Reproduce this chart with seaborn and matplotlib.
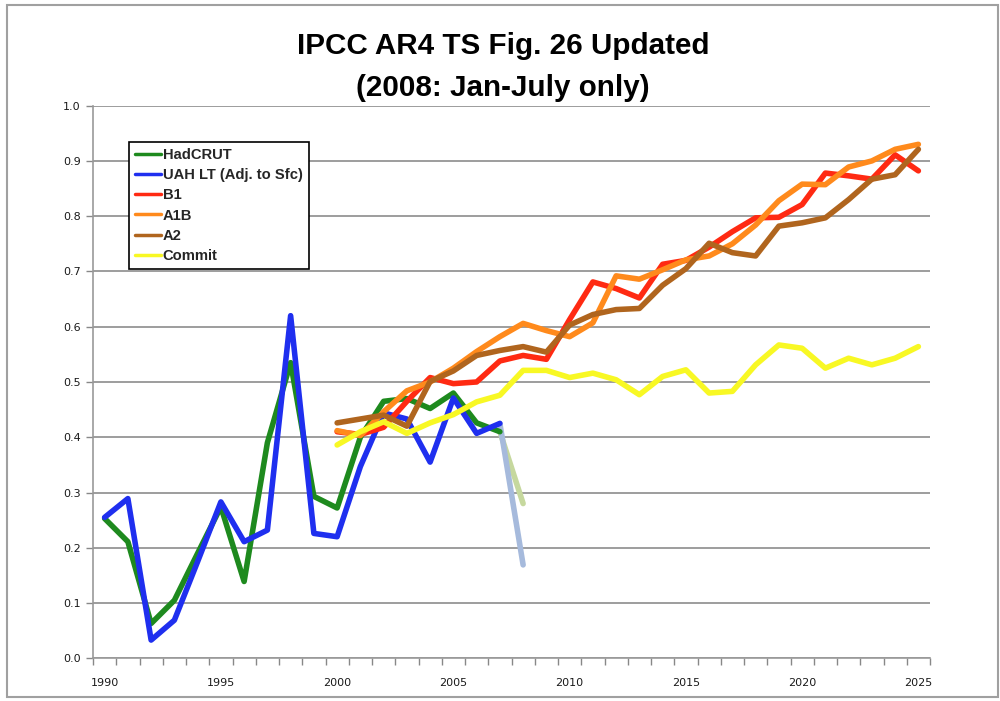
import matplotlib
matplotlib.use('Agg')
import matplotlib.pyplot as plt
import seaborn as sns
import pandas as pd
from matplotlib.patches import Rectangle
from matplotlib.ticker import FormatStrFormatter, MultipleLocator

# Observations (annual means, 1990-2007)
obs_years = list(range(1990, 2008))
hadcrut = [0.253, 0.211, 0.063, 0.105, 0.19, 0.274, 0.139, 0.39, 0.535, 0.293,
           0.272, 0.40, 0.465, 0.47, 0.452, 0.48, 0.426, 0.41]
uah = [0.255, 0.289, 0.033, 0.069, 0.175, 0.283, 0.211, 0.232, 0.62, 0.226,
       0.22, 0.347, 0.444, 0.433, 0.355, 0.471, 0.407, 0.425]

# 2008 (Jan-July only), drawn as pale segments from 2007
partial_years = [2007, 2008]
hadcrut_2008 = [0.41, 0.28]
uah_2008 = [0.425, 0.169]

# Model scenarios 2000-2025
scen_years = list(range(2000, 2026))
b1 = [0.41, 0.405, 0.418, 0.465, 0.508, 0.497, 0.50, 0.538, 0.548, 0.541,
      0.613, 0.681, 0.669, 0.652, 0.713, 0.72, 0.744, 0.772, 0.797, 0.798,
      0.821, 0.878, 0.873, 0.867, 0.911, 0.882]
a1b = [0.412, 0.403, 0.446, 0.484, 0.50, 0.525, 0.555, 0.582, 0.606, 0.593,
       0.582, 0.607, 0.692, 0.686, 0.703, 0.721, 0.728, 0.75, 0.784, 0.828,
       0.858, 0.857, 0.889, 0.90, 0.921, 0.93]
a2 = [0.426, 0.433, 0.44, 0.42, 0.501, 0.52, 0.548, 0.557, 0.564, 0.554,
      0.603, 0.622, 0.631, 0.633, 0.675, 0.705, 0.751, 0.734, 0.728, 0.782,
      0.788, 0.797, 0.83, 0.867, 0.875, 0.921]
commit = [0.386, 0.41, 0.428, 0.407, 0.426, 0.441, 0.464, 0.476, 0.521, 0.521,
          0.508, 0.516, 0.504, 0.477, 0.51, 0.522, 0.48, 0.483, 0.531, 0.567,
          0.561, 0.525, 0.543, 0.531, 0.543, 0.564]

series_names = ['HadCRUT', 'UAH LT (Adj. to Sfc)', 'B1', 'A1B', 'A2', 'Commit']
colors = ['#1e8a1e', '#1f2fef', '#ff2a12', '#ff8a1c', '#b0651e', '#f8f824']

rows = []
for name, yrs, vals in [('HadCRUT', obs_years, hadcrut),
                        ('UAH LT (Adj. to Sfc)', obs_years, uah),
                        ('B1', scen_years, b1),
                        ('A1B', scen_years, a1b),
                        ('A2', scen_years, a2),
                        ('Commit', scen_years, commit)]:
    for yr, v in zip(yrs, vals):
        rows.append({'Year': yr, 'Anomaly': v, 'Series': name})
df = pd.DataFrame(rows)

pale = pd.DataFrame({'Year': partial_years * 2,
                     'Anomaly': hadcrut_2008 + uah_2008,
                     'Series': ['had08'] * 2 + ['uah08'] * 2})

sns.set_style('white')
plt.rcParams['font.family'] = ['DejaVu Sans']

fig = plt.figure(figsize=(10, 7.01), dpi=100)
ax = fig.add_axes([0.093, 0.0609, 0.837, 0.7884])

sns.lineplot(data=pale, x='Year', y='Anomaly', hue='Series',
             palette={'had08': '#c6d89e', 'uah08': '#a6badc'},
             linewidth=4, legend=False, ax=ax)
sns.lineplot(data=df, x='Year', y='Anomaly', hue='Series',
             hue_order=series_names, palette=dict(zip(series_names, colors)),
             linewidth=4, ax=ax)

ax.set_xlim(1989.5, 2025.5)
ax.set_ylim(0, 1.0)
ax.yaxis.set_major_locator(MultipleLocator(0.1))
ax.yaxis.set_major_formatter(FormatStrFormatter('%.1f'))
ax.set_xticks(list(range(1990, 2026, 5)))
ax.xaxis.set_minor_locator(MultipleLocator(1, offset=0.5))
ax.tick_params(axis='x', which='major', length=0, pad=14, labelsize=8, labelcolor='#1a1a1a')
ax.tick_params(axis='x', which='minor', length=5, width=1, color='#888888', direction='out', bottom=True)
ax.tick_params(axis='y', length=5, width=1, color='#888888', direction='out', left=True,
               labelsize=8, labelcolor='#1a1a1a', pad=4)
ax.grid(axis='y', color='#8c8c8c', linewidth=1.2)
ax.set_axisbelow(True)
for side in ['top', 'right']:
    ax.spines[side].set_visible(False)
for side in ['left', 'bottom']:
    ax.spines[side].set_color('#999999')
    ax.spines[side].set_linewidth(1.2)
ax.set_xlabel('')
ax.set_ylabel('')

leg = ax.legend(loc='upper left', bbox_to_anchor=(0.043, 0.934), frameon=True,
                fancybox=False, edgecolor='black', framealpha=1,
                handlelength=1.8, handletextpad=0.1, labelspacing=0.42,
                borderpad=0.4, borderaxespad=0,
                prop={'family': 'Liberation Sans', 'weight': 'bold', 'size': 10.6})
leg.get_frame().set_linewidth(1.2)
for line in leg.get_lines():
    line.set_linewidth(2.5)

fig.text(0.503, 0.935, 'IPCC AR4 TS Fig. 26 Updated', ha='center', va='center',
         fontsize=21.3, fontweight='bold', color='black', family='Liberation Sans')
fig.text(0.503, 0.874, '(2008: Jan-July only)', ha='center', va='center',
         fontsize=21.3, fontweight='bold', color='black', family='Liberation Sans')

fig.patches.append(Rectangle((0.007, 0.006), 0.991, 0.987, transform=fig.transFigure,
                             fill=False, edgecolor='#a0a0a0', linewidth=1.5))

fig.savefig('out.png', dpi=100)
